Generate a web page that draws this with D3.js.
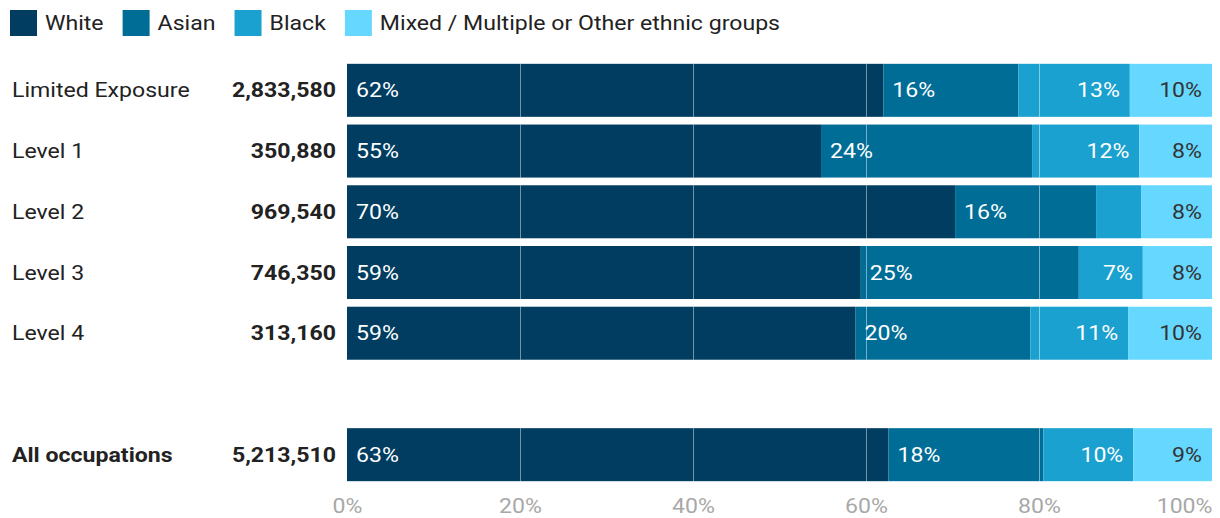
<!DOCTYPE html>
<html>
<head>
<meta charset="utf-8">
<script src="https://cdn.jsdelivr.net/npm/d3@7"></script>
<style>
  html, body { margin: 0; padding: 0; background: #fff; }
  svg { display: block; font-family: Roboto, "Noto Sans", sans-serif; }
</style>
</head>
<body>
<svg id="chart" width="1220" height="518"></svg>
<script>
// Occupation groups, row totals and ethnic-group shares (%)
const categories = ["Limited Exposure", "Level 1", "Level 2", "Level 3", "Level 4", "All occupations"];
const totals = [2833580, 350880, 969540, 746350, 313160, 5213510];
const seriesNames = ["White", "Asian", "Black", "Mixed / Multiple or Other ethnic groups"];
const white = [62.0, 54.8, 70.3, 59.4, 58.8, 62.6];
const asian = [15.6, 24.4, 16.3, 25.2, 20.2, 17.9];
const black = [12.9, 12.4, 5.2, 7.4, 11.3, 10.4];
const mixed = [9.5, 8.4, 8.2, 8.0, 9.7, 9.1];
const xTicks = [0, 20, 40, 60, 80, 100];
const colors = ["#003d61", "#006d96", "#1aa1cf", "#66d8ff"];

// Slightly widened lettering
const SX = 1.155;

const series = [white, asian, black, mixed];
const rows = categories.map((c, i) => {
  const o = { cat: c, total: totals[i] };
  seriesNames.forEach((s, j) => { o[s] = series[j][i]; });
  return o;
});

const svg = d3.select("#chart");
const GAP = "__gap__";
const domainRows = categories.slice(0, 5).concat([GAP], categories.slice(5));

const x = d3.scaleLinear().domain([0, 100]).range([347, 1212]);
const y = d3.scaleBand().domain(domainRows).range([60, 485]).paddingInner(0.127).paddingOuter(0.063);

const stacked = d3.stack().keys(seriesNames)(rows);

function label(g, px, py, str, o = {}) {
  return g.append("text")
    .attr("transform", `translate(${px},${py}) scale(${SX},1)`)
    .attr("dy", o.dy || null)
    .attr("text-anchor", o.anchor || "start")
    .attr("font-size", o.size || 20)
    .attr("font-weight", o.weight || 400)
    .attr("fill", o.fill || "#222")
    .text(str);
}

// Legend
const legend = svg.append("g");
let lx = 10;
seriesNames.forEach((s, i) => {
  legend.append("rect").attr("x", lx).attr("y", 10).attr("width", 27).attr("height", 26).attr("fill", colors[i]);
  const t = label(legend, lx + 35, 30, s);
  lx += 35 + t.node().getComputedTextLength() * SX + 19;
});

// Bars
const layers = svg.append("g").selectAll("g").data(stacked).join("g").attr("fill", (d, i) => colors[i]);
layers.selectAll("rect").data(d => d).join("rect")
  .attr("x", d => x(d[0]))
  .attr("y", d => y(d.data.cat))
  .attr("width", d => x(d[1]) - x(d[0]))
  .attr("height", y.bandwidth());

// Gridlines over the bars
const grid = svg.append("g");
categories.forEach(c => {
  grid.append("g").selectAll("line").data(xTicks.filter(t => t > 0 && t < 100)).join("line")
    .attr("x1", t => x(t) + 0.5).attr("x2", t => x(t) + 0.5)
    .attr("y1", y(c)).attr("y2", y(c) + y.bandwidth())
    .attr("stroke", "#fff").attr("stroke-opacity", 0.45).attr("stroke-width", 1);
});

// Segment value labels
const fmtPct = v => Math.round(v) + "%";
const valG = svg.append("g");
stacked.forEach((layer, i) => {
  layer.filter(d => (d[1] - d[0]) >= 6.5).forEach(d => {
    label(valG, i < 2 ? x(d[0]) + 9 : x(d[1]) - 10, y(d.data.cat) + y.bandwidth() / 2, fmtPct(d[1] - d[0]), {
      dy: "0.35em", anchor: i < 2 ? "start" : "end", fill: i === 3 ? "#333" : "#fff"
    });
  });
});

// Row labels and totals
const fmtNum = d3.format(",");
const rowG = svg.append("g");
rows.forEach(r => {
  const cy = y(r.cat) + y.bandwidth() / 2;
  label(rowG, 12, cy, r.cat, { dy: "0.35em", weight: r.cat === "All occupations" ? 700 : 400 });
  label(rowG, 336, cy, fmtNum(r.total), { dy: "0.35em", anchor: "end", weight: 700 });
});

// X axis
const axis = d3.axisBottom(x).tickValues(xTicks).tickFormat(d => d + "%").tickSize(0).tickPadding(0);
const ax = svg.append("g").attr("transform", "translate(0,492)").call(axis);
ax.select(".domain").remove();
ax.selectAll("text")
  .attr("y", 21).attr("dy", null)
  .attr("transform", `scale(${SX},1)`)
  .attr("font-size", 20).attr("font-family", "Roboto, sans-serif").attr("fill", "#a8a8a8")
  .attr("text-anchor", d => d === 100 ? "end" : "middle");
</script>
</body>
</html>
